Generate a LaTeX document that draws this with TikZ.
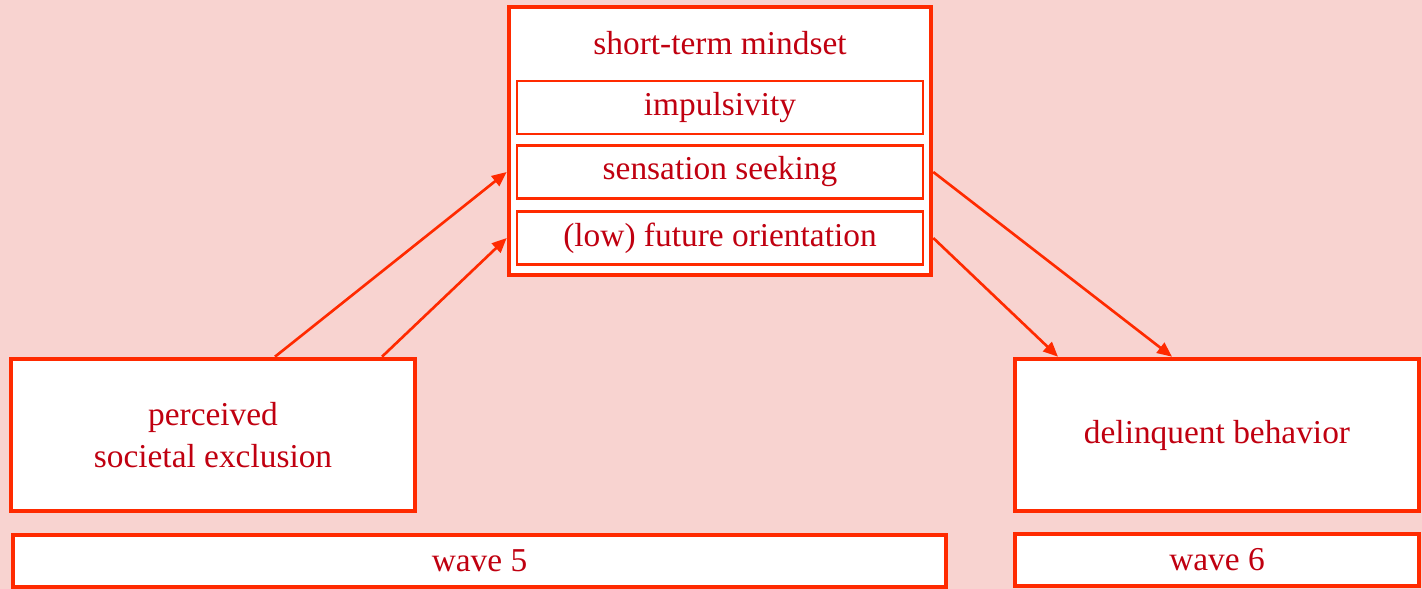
\documentclass[tikz,border=0pt]{standalone}
\usepackage{fontspec}
\setmainfont{Liberation Serif}
\usetikzlibrary{arrows.meta}
\definecolor{bgpink}{HTML}{F8D3D0}
\definecolor{boxred}{HTML}{FF2A00}
\definecolor{txtred}{HTML}{C00010}

\begin{document}
\begin{tikzpicture}[x=1cm,y=1cm,
    box/.style={draw=boxred,fill=white,line width=1.3pt,inner sep=0pt,
      font=\fontsize{9.5}{12}\selectfont,text=txtred,align=center},
    subbox/.style={box,line width=0.8pt,minimum width=4.06cm,minimum height=0.53cm},
    arr/.style={draw=boxred,line width=0.75pt,-{Triangle[length=4.2pt,width=3.6pt]}}]
  \fill[bgpink] (0,0) rectangle (14.22,-5.89);
  \useasboundingbox (0,0) rectangle (14.22,-5.89);
  % short-term mindset
  \node[box,minimum width=4.22cm,minimum height=2.68cm] (mind) at (7.20,-1.41) {};
  \node[text=txtred,font=\fontsize{9.5}{12}\selectfont] (mindtitle) at (7.20,-0.43) {short-term mindset};
  \node[subbox] (imp) at (7.20,-1.075) {impulsivity};
  \node[subbox] (sens) at (7.20,-1.72) {sensation seeking};
  \node[subbox] (fut) at (7.20,-2.38) {(low) future orientation};
  % wave 5 and wave 6
  \node[box,minimum width=4.04cm,minimum height=1.52cm] (excl) at (2.13,-4.35) {perceived\\societal exclusion};
  \node[box,minimum width=4.04cm,minimum height=1.52cm] (delinq) at (12.17,-4.35) {delinquent behavior};
  \node[box,minimum width=9.33cm,minimum height=0.52cm] (wfive) at (4.795,-5.61) {wave 5};
  \node[box,minimum width=4.04cm,minimum height=0.52cm] (wsix) at (12.17,-5.60) {wave 6};
  % paths
  \draw[arr] ([xshift=0.62cm]excl.north) -- (mind.west |- sens);
  \draw[arr] ([xshift=1.69cm]excl.north) -- (mind.west |- fut);
  \draw[arr] (mind.east |- sens) -- ([xshift=-0.45cm]delinq.north);
  \draw[arr] (mind.east |- fut) -- ([xshift=-1.59cm]delinq.north);
\end{tikzpicture}
\end{document}
